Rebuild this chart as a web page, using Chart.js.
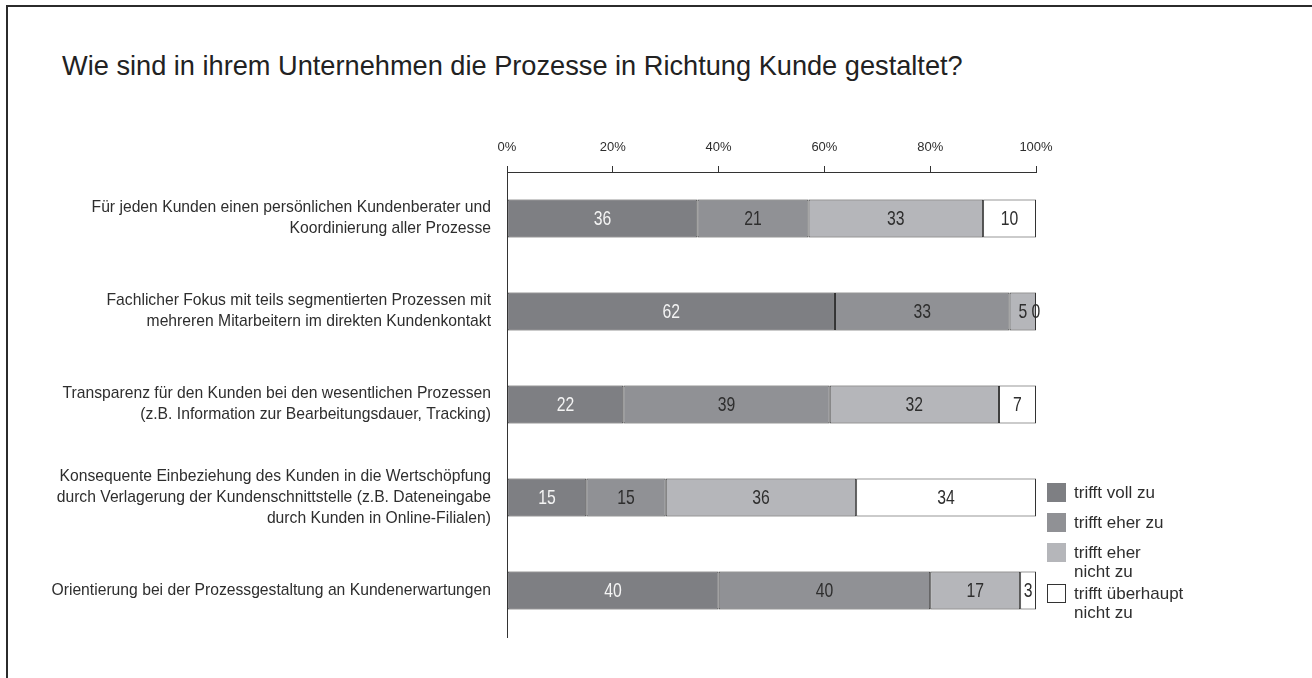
<!DOCTYPE html>
<html lang="de">
<head>
    <meta charset="UTF-8">
    <title>Prozesse in Richtung Kunde</title>
    <script src="https://cdn.jsdelivr.net/npm/chart.js"></script>
    <style>
        html, body { margin: 0; padding: 0; background: #fff; }
        body { width: 1312px; height: 678px; position: relative; overflow: hidden; font-family: "Liberation Sans", Arial, sans-serif; }
        .rahmen { position: absolute; left: 6px; top: 5px; right: 0; bottom: 0; border-top: 2px solid #2b2b2b; border-left: 2px solid #2b2b2b; }
        .titel { position: absolute; left: 62px; top: 50px; font-size: 27.2px; line-height: 32px; color: #222; white-space: nowrap; }
        .wrap { position: absolute; left: 0; top: 0; width: 1312px; height: 678px; }
    </style>
</head>
<body>
    <div class="rahmen"></div>
    <div class="titel">Wie sind in ihrem Unternehmen die Prozesse in Richtung Kunde gestaltet?</div>
    <div class="wrap"><canvas id="grafik"></canvas></div>

    <script>
        const kategorien = [
            ['Für jeden Kunden einen persönlichen Kundenberater und', 'Koordinierung aller Prozesse'],
            ['Fachlicher Fokus mit teils segmentierten Prozessen mit', 'mehreren Mitarbeitern im direkten Kundenkontakt'],
            ['Transparenz für den Kunden bei den wesentlichen Prozessen', '(z.B. Information zur Bearbeitungsdauer, Tracking)'],
            ['Konsequente Einbeziehung des Kunden in die Wertschöpfung', 'durch Verlagerung der Kundenschnittstelle (z.B. Dateneingabe', 'durch Kunden in Online-Filialen)'],
            ['Orientierung bei der Prozessgestaltung an Kundenerwartungen']
        ];
        const serienNamen = [['trifft voll zu'], ['trifft eher zu'], ['trifft eher', 'nicht zu'], ['trifft überhaupt', 'nicht zu']];
        const trifftVollZu = [36, 62, 22, 15, 40];
        const trifftEherZu = [21, 33, 39, 15, 40];
        const trifftEherNichtZu = [33, 5, 32, 36, 17];
        const trifftUeberhauptNichtZu = [10, 0, 7, 34, 3];
        const xTicks = [0, 20, 40, 60, 80, 100];

        const farben = ['#7e7f83', '#909195', '#b5b6ba', '#ffffff'];
        const wertFarben = ['#f4f4f4', '#2e2e2e', '#2e2e2e', '#2e2e2e'];
        const schrift = '"Liberation Sans", Arial, sans-serif';

        // Werte in die Balken schreiben (schmal gestaucht wie im Original)
        const wertePlugin = {
            id: 'werte',
            afterDatasetsDraw(chart) {
                const ctx = chart.ctx;
                chart.data.datasets.forEach((ds, i) => {
                    const meta = chart.getDatasetMeta(i);
                    meta.data.forEach((bar, j) => {
                        ctx.save();
                        ctx.font = '21px ' + schrift;
                        ctx.textAlign = 'center';
                        ctx.textBaseline = 'middle';
                        ctx.fillStyle = wertFarben[i];
                        ctx.translate((bar.x + bar.base) / 2, bar.y + 1);
                        ctx.scale(0.75, 1);
                        ctx.fillText(String(ds.data[j]), 0, 0);
                        ctx.restore();
                    });
                });
            }
        };

        // Legende rechts unten
        const legendePlugin = {
            id: 'legende',
            afterDraw(chart) {
                const ctx = chart.ctx;
                ctx.save();
                ctx.font = '17px ' + schrift;
                ctx.textBaseline = 'middle';
                ctx.textAlign = 'left';
                let y = 483;
                chart.data.datasets.forEach((ds, i) => {
                    ctx.fillStyle = ds.backgroundColor;
                    ctx.fillRect(1047, y, 19, 19);
                    if (ds.backgroundColor === '#ffffff') {
                        ctx.strokeStyle = '#333';
                        ctx.lineWidth = 1;
                        ctx.strokeRect(1047.5, y + 0.5, 18, 18);
                    }
                    ctx.fillStyle = '#2e2e2e';
                    ds.label.forEach((zeile, k) => {
                        ctx.fillText(zeile, 1074, y + 10 + k * 19.5);
                    });
                    y += 30 + (ds.label.length - 1) * 11;
                });
                ctx.restore();
            }
        };

        const reihen = [trifftVollZu, trifftEherZu, trifftEherNichtZu, trifftUeberhauptNichtZu];

        new Chart(document.getElementById('grafik'), {
            type: 'bar',
            data: {
                labels: kategorien,
                datasets: reihen.map((werte, i) => ({
                    label: serienNamen[i],
                    data: werte,
                    backgroundColor: farben[i],
                    borderColor: '#333333',
                    borderWidth: 1,
                    borderSkipped: false,
                    barPercentage: 0.41,
                    categoryPercentage: 1
                }))
            },
            options: {
                indexAxis: 'y',
                responsive: true,
                maintainAspectRatio: false,
                animation: false,
                layout: { padding: { left: 0, top: 0, right: 276, bottom: 41 } },
                plugins: { legend: { display: false }, tooltip: { enabled: false } },
                scales: {
                    x: {
                        position: 'top',
                        stacked: true,
                        min: 0,
                        max: 100,
                        afterBuildTicks: s => { s.ticks = xTicks.map(v => ({ value: v })); },
                        afterFit: s => { s.height = 172; },
                        grid: { display: true, drawOnChartArea: false, drawTicks: true, tickLength: 6, color: '#333' },
                        border: { display: true, color: '#333', width: 1 },
                        ticks: {
                            padding: 11,
                            color: '#2e2e2e',
                            font: { family: schrift, size: 13 },
                            callback: v => v + '%'
                        }
                    },
                    y: {
                        stacked: true,
                        afterFit: s => { s.width = 507; },
                        grid: { display: true, drawOnChartArea: false, drawTicks: false },
                        border: { display: true, color: '#333', width: 1 },
                        ticks: {
                            padding: 16,
                            color: '#2e2e2e',
                            font: { family: schrift, size: 15.7, lineHeight: 1.35 }
                        }
                    }
                }
            },
            plugins: [wertePlugin, legendePlugin]
        });
    </script>
</body>
</html>
